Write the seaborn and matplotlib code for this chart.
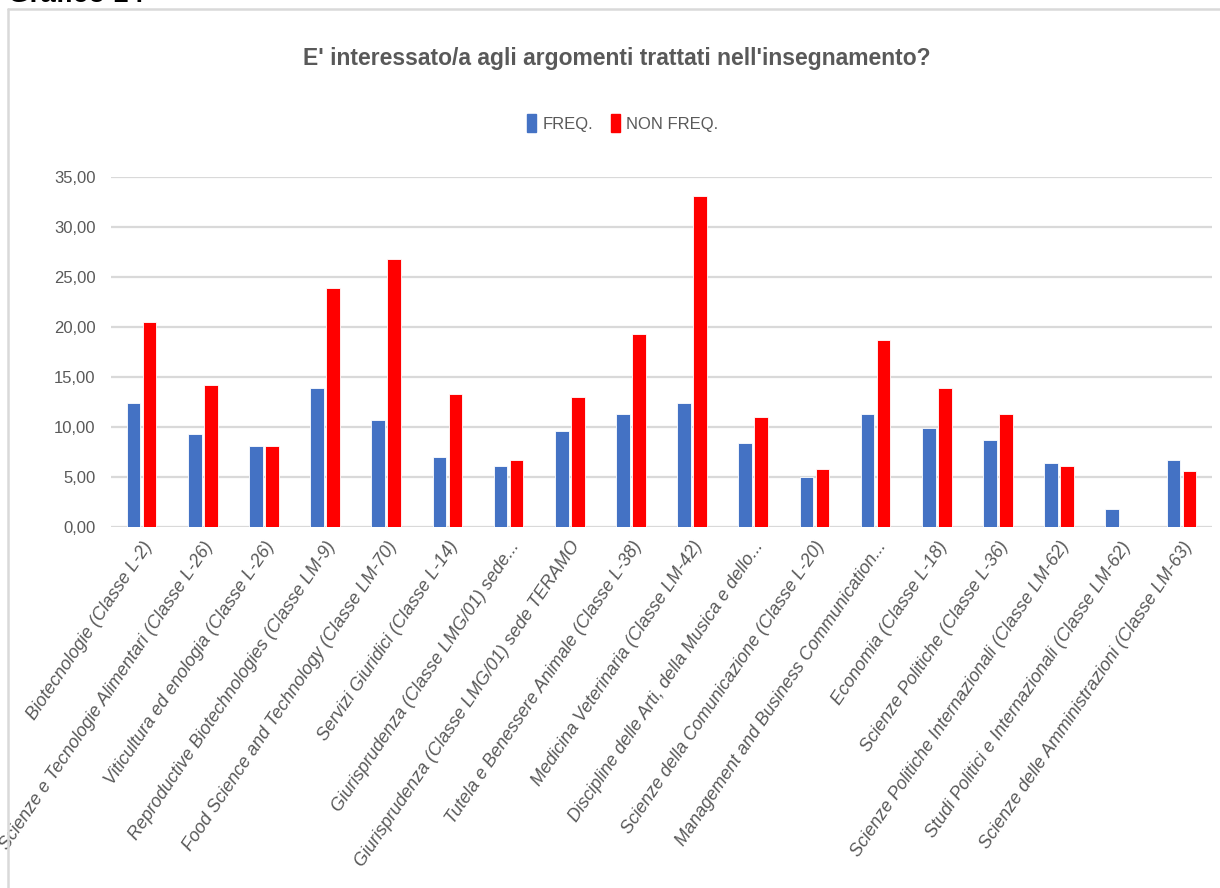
import matplotlib
matplotlib.use("Agg")
import matplotlib.pyplot as plt
import matplotlib.lines as mlines
import numpy as np
import pandas as pd
import seaborn as sns

sns.set_theme(style="white")
plt.rcParams['font.family'] = ['Liberation Sans', 'DejaVu Sans']

corsi = [
    "Biotecnologie (Classe L-2)",
    "Scienze e Tecnologie Alimentari (Classe L-26)",
    "Viticultura ed enologia (Classe L-26)",
    "Reproductive Biotechnologies (Classe LM-9)",
    "Food Science and Technology (Classe LM-70)",
    "Servizi Giuridici (Classe L-14)",
    "Giurisprudenza (Classe LMG/01) sede...",
    "Giurisprudenza (Classe LMG/01) sede TERAMO",
    "Tutela e Benessere Animale (Classe L-38)",
    "Medicina Veterinaria (Classe LM-42)",
    "Discipline delle Arti, della Musica e dello...",
    "Scienze della Comunicazione (Classe L-20)",
    "Management and Business Communication...",
    "Economia (Classe L-18)",
    "Scienze Politiche (Classe L-36)",
    "Scienze Politiche Internazionali (Classe LM-62)",
    "Studi Politici e Internazionali (Classe LM-62)",
    "Scienze delle Amministrazioni (Classe LM-63)",
]
freq = [12.4, 9.3, 8.1, 13.9, 10.7, 7.0, 6.1, 9.6, 11.3, 12.4,
        8.4, 5.0, 11.3, 9.9, 8.7, 6.4, 1.8, 6.7]
non_freq = [20.5, 14.2, 8.1, 23.9, 26.8, 13.3, 6.7, 13.0, 19.3, 33.1,
            11.0, 5.8, 18.7, 13.9, 11.3, 6.1, 0.0, 5.6]
serie = ["FREQ.", "NON FREQ."]
colori = ["#4472C4", "#FF0000"]

df = pd.DataFrame({
    "corso": corsi * 2,
    "valore": freq + non_freq,
    "serie": [serie[0]] * len(corsi) + [serie[1]] * len(corsi),
})

W, H = 1220, 888
fig = plt.figure(figsize=(W / 100, H / 100), dpi=100)
ax = fig.add_axes([111 / W, 1 - 527.3 / H, (1212 - 111) / W, (527.3 - 177.3) / H])

sns.barplot(data=df, x="corso", y="valore", hue="serie", palette=colori,
            width=0.52, gap=0.14, saturation=1, ax=ax, legend=False,
            edgecolor="white", linewidth=0.6)

ax.set_ylim(0, 35)
ax.set_yticks(np.arange(0, 36, 5))
ax.set_yticklabels([f"{v:.2f}".replace(".", ",") for v in np.arange(0, 36, 5)],
                   fontsize=12, color="#595959")
ax.yaxis.grid(True, color="#D9D9D9", linewidth=1.6)
ax.set_axisbelow(True)
for s in ax.spines.values():
    s.set_visible(False)
ax.tick_params(axis="both", length=0)
ax.tick_params(axis="y", pad=11)
ax.set_xlabel("")
ax.set_ylabel("")
ax.set_xticks(range(len(corsi)))
ax.set_xticklabels(corsi, rotation=56, ha="right", rotation_mode="anchor",
                   fontsize=13, style="italic", color="#595959")
ax.tick_params(axis="x", pad=8)

fig.suptitle("E' interessato/a agli argomenti trattati nell'insegnamento?",
             x=617 / W, y=1 - 58 / H, va="center", fontsize=16.5, fontweight="bold",
             color="#595959")

handles = [plt.Rectangle((0, 0), 1, 1, color=c) for c in colori]
fig.legend(handles, serie, loc="center", bbox_to_anchor=(623 / W, 1 - 123 / H),
           ncol=2, frameon=False, fontsize=12, handlelength=0.5, handleheight=1.25,
           handletextpad=0.4, columnspacing=1.1, labelcolor="#595959")

fig.text(8 / W, 1 - 2 / H, "Grafico 14", fontsize=20, fontweight="bold",
         color="black", va="baseline", ha="left")

fig.add_artist(mlines.Line2D([8 / W, 1], [1 - 9 / H, 1 - 9 / H],
                             color="#D9D9D9", linewidth=1.8))
fig.add_artist(mlines.Line2D([8 / W, 8 / W], [0, 1 - 9 / H],
                             color="#D9D9D9", linewidth=1.8))

plt.savefig("out.png", dpi=100)
